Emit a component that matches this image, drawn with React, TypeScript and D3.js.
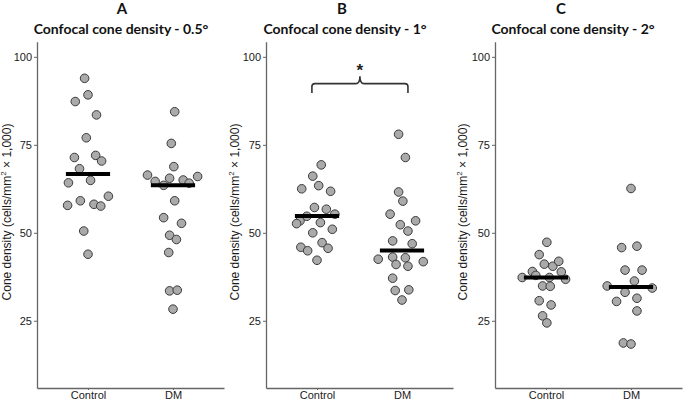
import React, { useEffect, useRef } from "react";
import * as d3 from "d3";

const groups = ["Control", "DM"];
const yTicks = [25, 50, 75, 100];
const panelLetters = ["A", "B", "C"];
const panelTitles = [
  "Confocal cone density - 0.5°",
  "Confocal cone density - 1°",
  "Confocal cone density - 2°",
];

// [group position + jitter, density] ; 1 = Control, 2 = DM
const controlA = [
  [0.96, 93.9], [0.85, 87.3], [1.0, 89.2], [1.1, 83.5], [0.98, 77.0], [0.84, 71.4],
  [1.09, 72.0], [1.16, 70.4], [0.9, 68.2], [0.77, 64.2], [1.03, 64.9], [1.24, 60.4],
  [0.91, 59.1], [0.76, 57.8], [1.07, 58.1], [1.15, 57.6], [0.95, 50.5], [1.0, 43.9],
];
const dmA = [
  [2.02, 84.4], [1.98, 75.4], [2.01, 68.8], [1.7, 66.4], [1.79, 64.6], [1.89, 63.5],
  [1.96, 65.5], [2.12, 65.0], [2.19, 64.1], [2.29, 66.0], [2.02, 59.1], [1.89, 54.3],
  [2.1, 52.7], [1.96, 49.3], [2.04, 48.1], [1.95, 44.4], [1.96, 33.5], [2.05, 33.7],
  [2.0, 28.3],
];
const controlB = [
  [1.05, 69.3], [0.95, 66.1], [0.82, 62.5], [1.02, 63.4], [1.16, 61.8], [0.8, 53.4],
  [0.97, 57.2], [1.11, 56.7], [1.21, 55.3], [0.88, 54.7], [0.76, 52.6], [1.04, 52.9],
  [0.95, 50.0], [1.18, 51.0], [1.06, 47.2], [0.81, 45.9], [0.89, 44.9], [1.13, 45.6],
  [1.0, 42.2],
];
const dmB = [
  [1.96, 78.0], [2.04, 71.4], [1.96, 61.6], [2.01, 59.0], [1.86, 55.3], [2.16, 53.4],
  [1.98, 52.3], [2.07, 50.5], [1.89, 47.7], [2.12, 46.9], [1.72, 42.5], [1.89, 43.1],
  [2.04, 42.9], [2.25, 41.8], [1.93, 41.0], [2.07, 40.5], [1.89, 37.1], [1.92, 33.6],
  [2.08, 33.8], [2.0, 30.9],
];
const controlC = [
  [1.01, 47.3], [0.92, 43.8], [0.98, 41.1], [1.08, 40.5], [1.15, 41.9], [0.84, 39.0],
  [1.18, 38.9], [0.88, 37.9], [0.72, 37.3], [1.04, 37.3], [1.23, 36.8], [0.96, 34.9],
  [1.05, 34.8], [0.92, 30.7], [1.06, 29.5], [0.96, 26.4], [1.01, 24.4],
];
const dmC = [
  [2.0, 62.6], [1.89, 45.8], [2.07, 46.2], [1.93, 39.4], [2.13, 39.4], [2.04, 36.3],
  [1.72, 34.9], [1.93, 33.1], [2.25, 34.3], [2.07, 31.4], [1.83, 30.5], [2.07, 27.8],
  [1.91, 18.7], [2.0, 18.4],
];
const meansA = [66.7, 63.5];
const meansB = [54.8, 45.0];
const meansC = [37.3, 34.6];

// significance bracket in panel B (data units)
const bracketB = { x1: 0.94, x2: 2.07, yEnd: 89.7, yBar: 92.4, yTip: 94.5, yStar: 97.2 };

const panels = [
  { control: controlA, dm: dmA, means: meansA, bracket: null },
  { control: controlB, dm: dmB, means: meansB, bracket: bracketB },
  { control: controlC, dm: dmC, means: meansC, bracket: null },
];

// layout (pixels)
const W = 683, H = 400;
const axisLeft = [37, 266, 495];
const axisWidth = 187;
const letterX = [122, 342, 561];
const titleX = [121, 345, 573];
const yLabelX = [7, 235, 463];
const sansFont = "Liberation Sans, Arial, Helvetica, sans-serif";
const titleFont = "Lato, Open Sans, sans-serif";

export default function App() {
  const ref = useRef<SVGSVGElement | null>(null);

  useEffect(() => {
    const svg = d3.select(ref.current);
    svg.selectAll("*").remove();

    const y = d3.scaleLinear().domain([5.9, 104.3]).range([388, 41.7]);

    panels.forEach((p, i) => {
      const x = d3.scaleLinear().domain([0.4, 2.6]).range([axisLeft[i], axisLeft[i] + axisWidth]);
      const g = svg.append("g");

      // titles
      g.append("text")
        .attr("x", letterX[i]).attr("y", 14)
        .attr("text-anchor", "middle")
        .attr("font-family", titleFont)
        .attr("font-weight", 700).attr("font-size", 15)
        .attr("fill", "#111")
        .text(panelLetters[i]);
      g.append("text")
        .attr("x", titleX[i]).attr("y", 34)
        .attr("text-anchor", "middle")
        .attr("font-family", titleFont)
        .attr("font-weight", 700).attr("font-size", 14)
        .attr("fill", "#111")
        .text(panelTitles[i]);

      // y axis
      const ya = g.append("g")
        .attr("transform", `translate(${axisLeft[i]},0)`)
        .call(d3.axisLeft(y).tickValues(yTicks).tickSize(3).tickSizeOuter(0).tickPadding(2));
      // x axis
      const xa = g.append("g")
        .attr("transform", `translate(0,388)`)
        .call(d3.axisBottom(x).tickValues([1, 2]).tickFormat((d: any) => groups[d - 1])
          .tickSize(2).tickSizeOuter(0).tickPadding(1));
      [ya, xa].forEach((a) => {
        a.attr("font-family", sansFont).attr("font-size", 11);
        a.select(".domain").attr("stroke", "#666").attr("stroke-width", 1.3);
        a.selectAll(".tick line").attr("stroke", "#666");
        a.selectAll(".tick text").attr("fill", "#1a1a1a");
      });

      // y label
      const lbl = g.append("text")
        .attr("transform", `translate(${yLabelX[i]},212) rotate(-90)`)
        .attr("text-anchor", "middle")
        .attr("dominant-baseline", "central")
        .attr("font-family", sansFont)
        .attr("font-size", 12).attr("fill", "#1a1a1a");
      lbl.append("tspan").text("Cone density (cells/mm");
      lbl.append("tspan").attr("font-size", 8).attr("dy", -4).text("2");
      lbl.append("tspan").attr("dy", 4).text(" × 1,000)");

      // points
      const pts = [...p.control, ...p.dm];
      g.selectAll("circle.pt")
        .data(pts)
        .join("circle")
        .attr("class", "pt")
        .attr("cx", (d) => x(d[0]))
        .attr("cy", (d) => y(d[1]))
        .attr("r", 4.3)
        .attr("fill", "#aaaaaa")
        .attr("stroke", "#3a3a3a")
        .attr("stroke-width", 1);

      // mean bars
      g.selectAll("line.mean")
        .data(p.means)
        .join("line")
        .attr("class", "mean")
        .attr("x1", (_d, j) => x(j + 1 - 0.26))
        .attr("x2", (_d, j) => x(j + 1 + 0.26))
        .attr("y1", (d) => y(d))
        .attr("y2", (d) => y(d))
        .attr("stroke", "#000")
        .attr("stroke-width", 4);

      // significance bracket
      const b = p.bracket;
      if (b) {
        const xm = x((b.x1 + b.x2) / 2);
        const x1 = x(b.x1), x2 = x(b.x2);
        const yb = y(b.yBar), ye = y(b.yEnd), yt = y(b.yTip);
        const path = d3.path();
        path.moveTo(x1, ye);
        path.lineTo(x1, yb + 3);
        path.quadraticCurveTo(x1, yb, x1 + 3, yb);
        path.lineTo(xm - 4, yb);
        path.quadraticCurveTo(xm, yb, xm, yt);
        path.quadraticCurveTo(xm, yb, xm + 4, yb);
        path.lineTo(x2 - 3, yb);
        path.quadraticCurveTo(x2, yb, x2, yb + 3);
        path.lineTo(x2, ye);
        g.append("path")
          .attr("d", path.toString())
          .attr("fill", "none")
          .attr("stroke", "#333")
          .attr("stroke-width", 1.6);
        g.append("text")
          .attr("x", xm).attr("y", y(b.yStar) + 9)
          .attr("text-anchor", "middle")
          .attr("font-family", sansFont)
          .attr("font-weight", 700).attr("font-size", 17)
          .attr("fill", "#222")
          .text("*");
      }
    });
  }, []);

  return (
    <svg
      ref={ref}
      width={W}
      height={H}
      style={{ position: "absolute", left: 0, top: 0, background: "#fff" }}
    />
  );
}
